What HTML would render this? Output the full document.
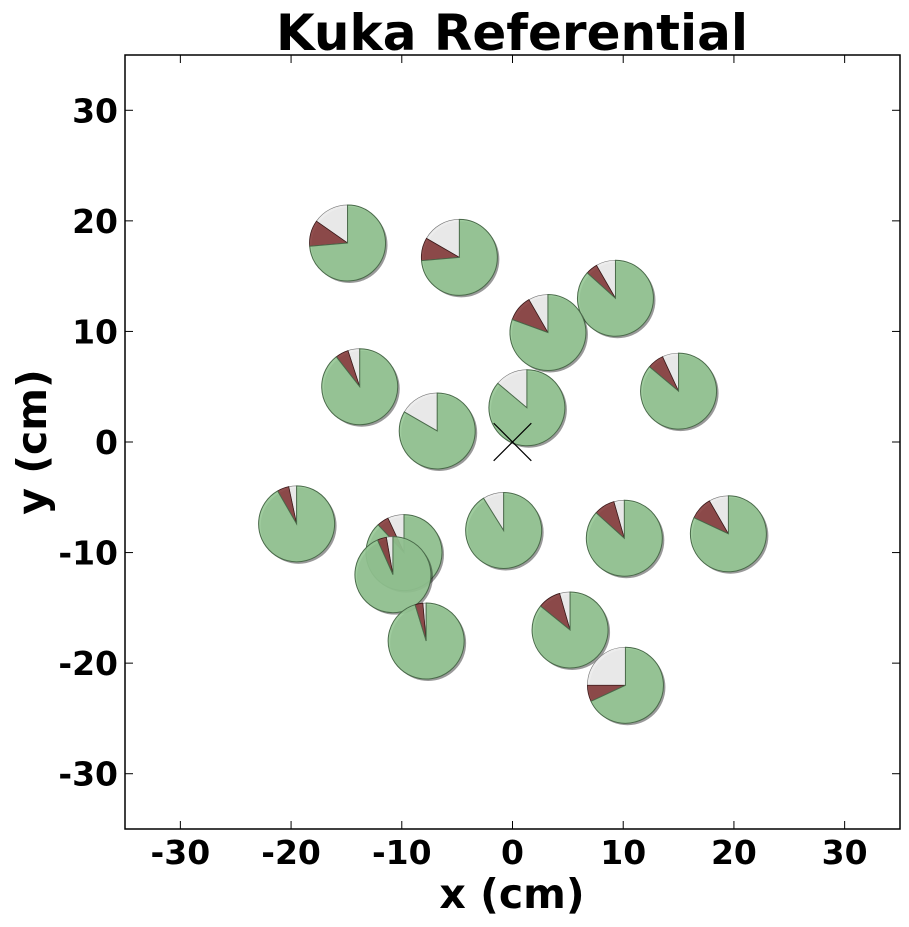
<!DOCTYPE html>
<html><head><meta charset="utf-8"><style>
body{margin:0;background:#fff}
svg{display:block;font-family:"DejaVu Sans","Liberation Sans",sans-serif;font-weight:bold}
</style></head><body>
<svg id="c" width="909" height="927">
<text x="512" y="50" font-size="50" text-anchor="middle">Kuka Referential</text>
<text x="512" y="908" font-size="41" text-anchor="middle">x (cm)</text>
<text transform="translate(46,442) rotate(-90)" font-size="41" text-anchor="middle">y (cm)</text>
<g id="plot"></g>
<rect x="125" y="55" width="775" height="774" fill="none" stroke="#000" stroke-width="1.5"/>
</svg>
<script>
const xs=[-14.9,-4.8,9.3,3.2,-13.8,15,-6.8,1.3,-19.5,-9.8,-10.8,-0.8,10.1,19.5,-7.8,5.2,10.2];
const ys=[18,16.7,13,9.9,5,4.6,1,3.1,-7.4,-10,-12,-8,-8.7,-8.3,-18,-17,-22];
const greyDeg=[55,60,30,30,18,25,60,50,12,25,10,32,16,30,5,16,90];
const redDeg=[40,35,18,40,20,25,0,0,18,18,14,0,32,35,12,35,25];
const ticks=[-30,-20,-10,0,10,20,30];
const X0=125,X1=900,Y0=55,Y1=829;
const sx=v=>X0+(v+35)*(X1-X0)/70, sy=v=>Y1-(v+35)*(Y1-Y0)/70;
const NS='http://www.w3.org/2000/svg';
const g=document.getElementById('plot');
function mk(t,a,p){const e=document.createElementNS(NS,t);for(const k in a)e.setAttribute(k,a[k]);(p||g).appendChild(e);return e;}
const R=38;
function wedge(cx,cy,a0,a1){
  const r=Math.PI/180;
  const x0=cx+R*Math.cos(a0*r),y0=cy-R*Math.sin(a0*r),x1=cx+R*Math.cos(a1*r),y1=cy-R*Math.sin(a1*r);
  return `M${cx},${cy}L${x0},${y0}A${R},${R} 0 ${a1-a0>180?1:0} 0 ${x1},${y1}Z`;
}
ticks.forEach(t=>{
  const x=sx(t),y=sy(t);
  let e=mk('line',{x1:x,y1:Y1,x2:x,y2:Y1-8,stroke:'#000'});
  
  mk('line',{x1:x,y1:Y0,x2:x,y2:Y0+8,stroke:'#000'});
  e=mk('text',{x:X0,y:y,x1:X0,y1:y,x2:X0+8,y2:y});g.removeChild(e);
  e=mk('line',{x1:X0,y1:y,x2:X0+8,y2:y,stroke:'#000'});
  
  mk('line',{x1:X1,y1:y,x2:X1-8,y2:y,stroke:'#000'});
  e=mk('text',{x:x,y:Y1+35,'font-size':33,'text-anchor':'middle'});e.textContent=t;
  
  e=mk('text',{x:X0-7,y:y+12,'font-size':33,'text-anchor':'end'});e.textContent=t;
  
});
xs.forEach((xv,i)=>{
  const cx=sx(xv),cy=sy(ys[i]);
  const pg=mk('g',{});
  
  
  mk('circle',{cx:cx+2,cy:cy+2,r:R,fill:'#000','fill-opacity':0.4},pg);
  const gd=greyDeg[i],rd=redDeg[i];
  if(gd>0)mk('path',{d:wedge(cx,cy,90,90+gd),fill:'#ececec','fill-opacity':0.95,stroke:'#777','stroke-width':0.6},pg);
  if(rd>0)mk('path',{d:wedge(cx,cy,90+gd,90+gd+rd),fill:'#8a4545','fill-opacity':0.95,stroke:'#3a1a1a','stroke-width':0.8},pg);
  mk('path',{d:wedge(cx,cy,90+gd+rd,450),fill:'#95c794','fill-opacity':0.9,stroke:'#4a6a4a','stroke-width':1},pg);
});
let e=mk('path',{d:`M${sx(-1.7)},${sy(-1.7)}L${sx(1.7)},${sy(1.7)}M${sx(-1.7)},${sy(1.7)}L${sx(1.7)},${sy(-1.7)}`,stroke:'#000','stroke-width':1.2,fill:'none'});

</script>
</body></html>
